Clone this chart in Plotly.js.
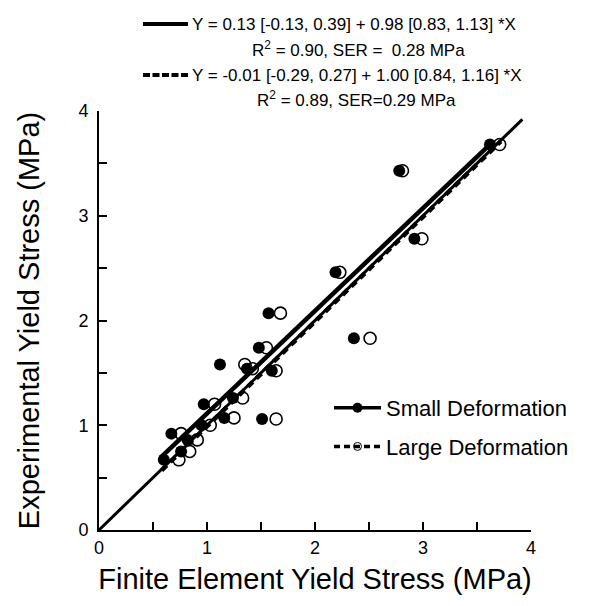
<!DOCTYPE html>
<html>
<head>
<meta charset="utf-8">
<script src="https://cdn.plot.ly/plotly-3.0.1.min.js"></script>
<style>html,body{margin:0;padding:0;background:#fff}#chart{width:590px;height:606px}</style>
</head>
<body>
<div id="chart"></div>
<script>
// ---- data ----
const experimentalY = [3.68, 3.43, 2.78, 2.46, 2.07, 1.83, 1.74, 1.58, 1.54, 1.52, 1.26, 1.20, 1.07, 1.06, 1.00, 0.92, 0.86, 0.75, 0.67];
const smallFE       = [3.62, 2.78, 2.92, 2.19, 1.57, 2.36, 1.48, 1.12, 1.37, 1.60, 1.24, 0.97, 1.16, 1.51, 0.95, 0.67, 0.82, 0.76, 0.60];
const largeFE       = [3.71, 2.81, 2.99, 2.23, 1.68, 2.51, 1.55, 1.35, 1.42, 1.64, 1.33, 1.07, 1.25, 1.64, 1.03, 0.76, 0.91, 0.84, 0.74];
const smallFitX = [0.57, 3.65];
const smallFitY = [0.69, 3.71];
const largeFitX = [0.58, 3.72];
const largeFitY = [0.57, 3.71];
const identityX = [0, 3.92];
const identityY = [0, 3.92];
const tickVals = [0, 1, 2, 3, 4];
const tickText = ['0', '1', '2', '3', '4'];
const minorVals = [0.5, 1.5, 2.5, 3.5];
const eq1 = 'Y = 0.13 [-0.13, 0.39] + 0.98 [0.83, 1.13] *X';
const eq2 = 'R<sup>2</sup> = 0.90, SER = &nbsp;0.28 MPa';
const eq3 = 'Y = -0.01 [-0.29, 0.27] + 1.00 [0.84, 1.16] *X';
const eq4 = 'R<sup>2</sup> = 0.89, SER=0.29 MPa';
const legendNames = ['Small Deformation', 'Large Deformation'];

// ---- layout geometry ----
const W = 590, H = 606;
const L = 99, R = 531, T = 111, B = 530;
const px = x => (x - L) / (R - L);
const py = y => (B - y) / (B - T);
const FONT = 'Liberation Sans, Arial, Helvetica, sans-serif';

const traces = [
  {x: identityX, y: identityY, mode: 'lines', line: {color: '#000', width: 3}, showlegend: false, hoverinfo: 'skip'},
  {x: smallFitX, y: smallFitY, mode: 'lines', line: {color: '#000', width: 4.5}, showlegend: false},
  {x: largeFitX, y: largeFitY, mode: 'lines', line: {color: '#000', width: 4.5, dash: '7px,5px'}, showlegend: false},
  {x: largeFE, y: experimentalY, mode: 'markers', showlegend: false,
   marker: {symbol: 'circle-open', size: 12, color: '#000', line: {width: 1.6, color: '#000'}}},
  {x: smallFE, y: experimentalY, mode: 'markers', showlegend: false,
   marker: {symbol: 'circle', size: 12, color: '#000'}},
  {x: [null], y: [null], name: legendNames[0], mode: 'lines+markers', legendgroup: 'a',
   line: {color: '#000', width: 3.5}, marker: {symbol: 'circle', size: 10, color: '#000'}},
  {x: [null], y: [null], name: legendNames[1], mode: 'lines+markers', legendgroup: 'b',
   line: {color: '#000', width: 3.5, dash: '6px,4px'},
   marker: {symbol: 'circle-open', size: 8, color: '#000', line: {color: '#000', width: 1}}}
];

const axisCommon = {
  range: [0, 4], tickvals: tickVals, ticktext: tickText,
  showgrid: false, zeroline: false, showline: true, linecolor: '#000', linewidth: 2,
  ticks: 'inside', ticklen: 8, tickwidth: 2, tickcolor: '#000',
  minor: {tickvals: minorVals, ticks: 'inside', ticklen: 8, tickwidth: 2, tickcolor: '#000'},
  tickfont: {family: FONT, size: 18, color: '#000'},
  fixedrange: true
};

const layout = {
  width: W, height: H,
  margin: {l: L, r: W - R, t: T, b: H - B},
  paper_bgcolor: '#fff', plot_bgcolor: '#fff',
  font: {family: FONT, color: '#000'},
  xaxis: Object.assign({}, axisCommon, {
    ticklabelstandoff: 0,
    title: {text: 'Finite Element Yield Stress (MPa)', font: {family: FONT, size: 29, color: '#000'}, standoff: 12}
  }),
  yaxis: Object.assign({}, axisCommon, {
    ticklabelstandoff: 5,
    title: {text: 'Experimental Yield Stress (MPa)', font: {family: FONT, size: 29, color: '#000'}, standoff: 30}
  }),
  showlegend: true,
  legend: {
    x: px(329), y: py(387), xanchor: 'left', yanchor: 'top',
    font: {family: FONT, size: 22, color: '#000'},
    bgcolor: 'rgba(0,0,0,0)', tracegroupgap: 7, itemwidth: 47
  },
  shapes: [
    {type: 'line', xref: 'paper', yref: 'paper', x0: px(143), x1: px(188), y0: py(24), y1: py(24), line: {color: '#000', width: 4}},
    {type: 'line', xref: 'paper', yref: 'paper', x0: px(143), x1: px(188), y0: py(75), y1: py(75), line: {color: '#000', width: 4, dash: '7px,2.5px'}}
  ],
  annotations: [
    {text: eq1, xref: 'paper', yref: 'paper', x: px(190), y: py(24), xanchor: 'left', yanchor: 'middle', showarrow: false, font: {family: FONT, size: 17, color: '#000'}},
    {text: eq2, xref: 'paper', yref: 'paper', x: px(358), y: py(49), xanchor: 'center', yanchor: 'middle', showarrow: false, font: {family: FONT, size: 17, color: '#000'}},
    {text: eq3, xref: 'paper', yref: 'paper', x: px(190), y: py(75), xanchor: 'left', yanchor: 'middle', showarrow: false, font: {family: FONT, size: 17, color: '#000'}},
    {text: eq4, xref: 'paper', yref: 'paper', x: px(356), y: py(99), xanchor: 'center', yanchor: 'middle', showarrow: false, font: {family: FONT, size: 17, color: '#000'}},
    {text: 'Y = X', xref: 'x', yref: 'y', x: 4.02, y: 3.74, xanchor: 'center', yanchor: 'middle', showarrow: false, font: {family: FONT, size: 16, color: '#000'}}
  ]
};

Plotly.newPlot('chart', traces, layout, {displayModeBar: false, staticPlot: true});
</script>
</body>
</html>
